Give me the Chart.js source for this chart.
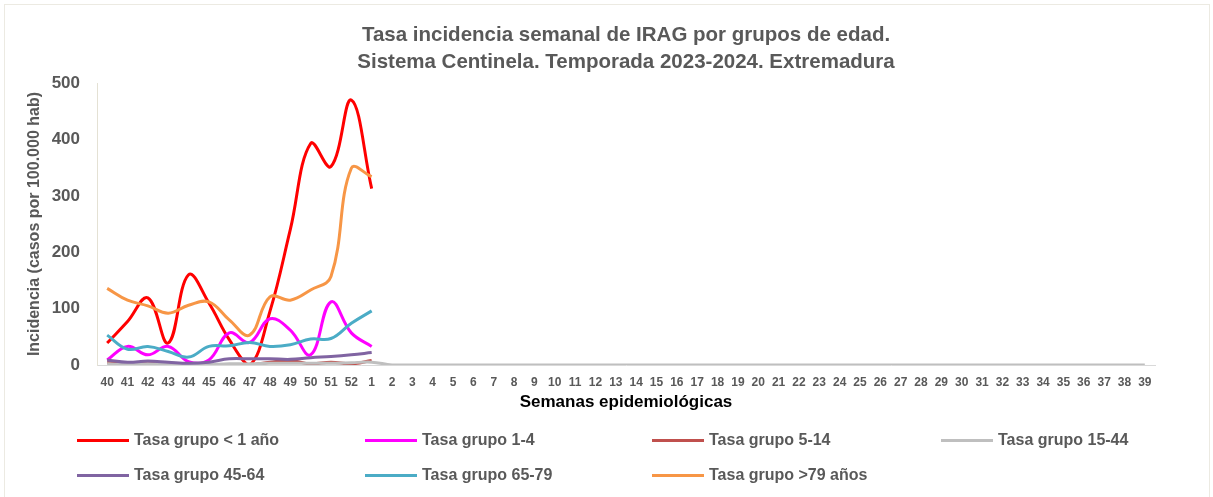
<!DOCTYPE html>
<html>
<head>
<meta charset="utf-8">
<script src="https://cdn.jsdelivr.net/npm/chart.js@4.4.0/dist/chart.umd.min.js"></script>
<style>
  html, body { margin: 0; padding: 0; background: #fff; }
  #wrap { position: relative; width: 1213px; height: 497px; overflow: hidden; }
  #frame { position: absolute; left: 4px; top: 4px; width: 1206px; height: 500px; border: 1px solid #ECEAE2; box-sizing: border-box; }
  #chart { position: absolute; left: 0; top: 0; }
  .item { position: absolute; display: flex; align-items: center; height: 20px; margin-top: -10px;
          font: bold 16px "Liberation Sans", Arial, sans-serif; color: #595959; white-space: nowrap; }
  .swatch { width: 52px; height: 3px; margin-right: 5px; }
</style>
</head>
<body>
<div id="wrap">
  <div id="frame"></div>
  <canvas id="chart" width="1213" height="497"></canvas>
  <div id="legend"></div>
</div>
<script>
// semanas epidemiológicas 40-52 (2023) y 1-39 (2024)
const semanas = ['40','41','42','43','44','45','46','47','48','49','50','51','52',
  '1','2','3','4','5','6','7','8','9','10','11','12','13','14','15','16','17','18','19',
  '20','21','22','23','24','25','26','27','28','29','30','31','32','33','34','35','36','37','38','39'];

// tasas (semanas 40 a 1)
const grupoMenor1 = [39, 77, 119, 39, 160, 110, 45, 0, 95, 240, 393, 352, 470, 313];
const grupo1a4    = [9, 33, 18, 33, 6, 9, 57, 40, 82, 62, 18, 112, 57, 33];
const grupo5a14   = [5, 2, 3, 1, 0, 0, 1, 0, 5, 8, 2, 5, 2, 8];
const grupo15a44  = [2, 1, 2, 1, 1, 1, 2, 2, 3, 3, 3, 3, 4, 5,
  0, 0, 0, 0, 0, 0, 0, 0, 0, 0, 0, 0, 0, 0, 0, 0, 0, 0, 0, 0, 0, 0, 0, 0, 0,
  0, 0, 0, 0, 0, 0, 0, 0, 0, 0, 0, 0, 0];
const grupo45a64  = [9, 5, 7, 5, 3, 5, 11, 11, 11, 10, 13, 15, 18, 22];
const grupo65a79  = [53, 28, 33, 24, 14, 33, 34, 40, 33, 36, 46, 47, 74, 96];
const grupoMayor79 = [136, 115, 105, 92, 106, 112, 80, 53, 121, 115, 133, 157, 349, 334];

const nombres = ['Tasa grupo < 1 año', 'Tasa grupo 1-4', 'Tasa grupo 5-14', 'Tasa grupo 15-44',
  'Tasa grupo 45-64', 'Tasa grupo 65-79', 'Tasa grupo >79 años'];
const colores = ['#FF0000', '#FF00FF', '#C0504D', '#BFBFBF', '#8064A2', '#4BACC6', '#F79646'];
const series = [grupoMenor1, grupo1a4, grupo5a14, grupo15a44, grupo45a64, grupo65a79, grupoMayor79];

const yTicks = [0, 100, 200, 300, 400, 500];

const FONT = '"Liberation Sans", Arial, sans-serif';
const GRIS = '#595959';

const datasets = series.map((vals, i) => ({
  label: nombres[i],
  data: vals,
  borderColor: colores[i],
  backgroundColor: colores[i],
  borderWidth: 3,
  pointRadius: 0,
  tension: 0.4,
  fill: false,
  order: series.length - i // como en Excel, la última serie queda encima
}));

const chart = new Chart(document.getElementById('chart'), {
  type: 'line',
  data: { labels: semanas, datasets: datasets },
  options: {
    responsive: false,
    animation: false,
    // padding izquierdo + eje vacío a la derecha para que el título quede centrado sobre el gráfico
    layout: { padding: { left: 39, right: 0, top: 0, bottom: 77 } },
    plugins: {
      legend: { display: false },
      tooltip: { enabled: false },
      title: {
        display: true,
        text: ['Tasa incidencia semanal de IRAG por grupos de edad.',
               'Sistema Centinela. Temporada 2023-2024. Extremadura'],
        color: GRIS,
        font: { family: FONT, size: 20.5, weight: 'bold', lineHeight: 1.32 },
        padding: { top: 21.5, bottom: 7.5 }
      }
    },
    scales: {
      x: {
        type: 'category',
        offset: true,
        grid: { display: false },
        border: { display: true, color: '#D9D9D9', width: 1 },
        ticks: { autoSkip: false, maxRotation: 0, color: GRIS, padding: 2,
                 font: { family: FONT, size: 12, weight: 'bold' } },
        title: { display: true, text: 'Semanas epidemiológicas', color: '#000',
                 font: { family: FONT, size: 17, weight: 'bold' },
                 padding: { top: 0, bottom: 7 } },
        afterFit: s => { s.height = 55; }
      },
      y: {
        min: 0,
        max: 500,
        afterBuildTicks: s => { s.ticks = yTicks.map(v => ({ value: v })); },
        grid: { display: false },
        border: { display: true, color: '#E4E1D4', width: 1 },
        ticks: { color: GRIS, padding: 9, font: { family: FONT, size: 17, weight: 'bold' } },
        title: { display: true, text: 'Incidencia (casos por 100.000 hab)', color: GRIS,
                 font: { family: FONT, size: 16, weight: 'bold' },
                 padding: { top: -13.6, bottom: 0 } },
        afterFit: s => { s.width = 58; }
      },
      margen: {
        position: 'right',
        min: 0,
        max: 1,
        grid: { display: false },
        border: { display: false },
        ticks: { display: false },
        afterFit: s => { s.width = 58; }
      }
    }
  }
});

// leyenda en dos filas y cuatro columnas
const colX = [77, 365, 652, 941];
const rowY = [440, 475];
const legend = document.getElementById('legend');
chart.data.datasets.forEach((ds, i) => {
  const el = document.createElement('div');
  el.className = 'item';
  el.style.left = colX[i % 4] + 'px';
  el.style.top = rowY[Math.floor(i / 4)] + 'px';
  el.innerHTML = '<span class="swatch" style="background:' + ds.borderColor + '"></span>' + ds.label;
  legend.appendChild(el);
});
</script>
</body>
</html>
